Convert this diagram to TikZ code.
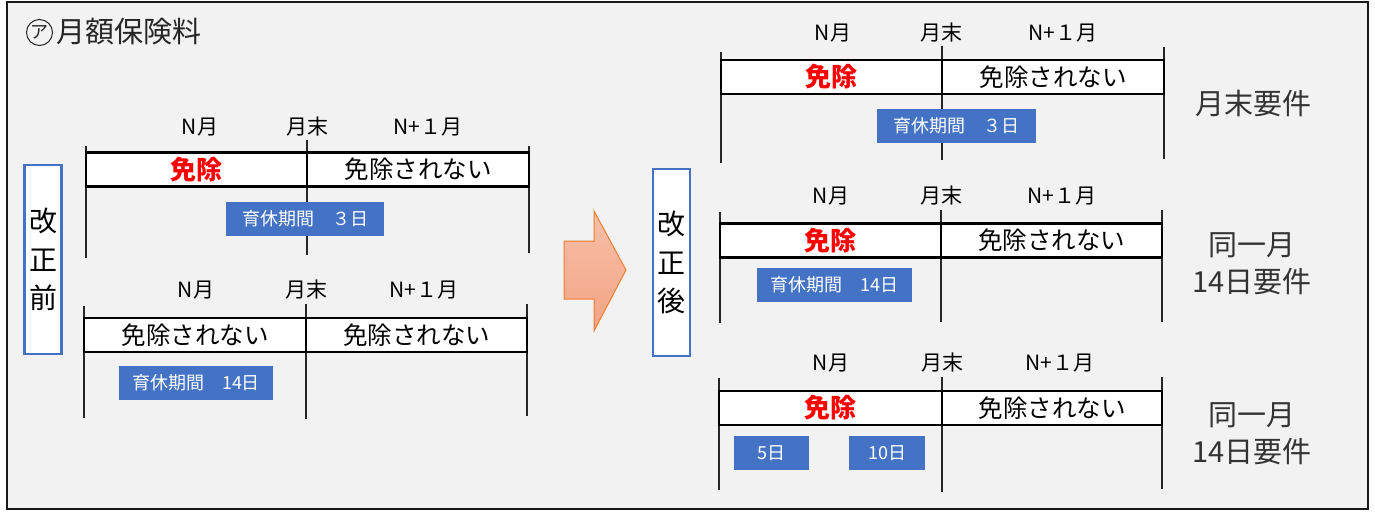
\documentclass[tikz,border=0pt]{standalone}
\usepackage{fontspec}
\setmainfont{Noto Sans CJK JP}
\definecolor{bg}{HTML}{F2F2F2}
\definecolor{accblue}{HTML}{4472C4}
\definecolor{arrowline}{HTML}{ED7D31}
\definecolor{arrtop}{HTML}{F6C0A8}
\definecolor{arrbot}{HTML}{F3A383}
\tikzset{
  cell/.style={draw=black, line width=2.2pt, fill=white, inner sep=0pt, minimum height=34pt,
    font=\fontsize{24.5}{28}\selectfont},
  exempt/.style={text=red, font=\fontsize{26}{30}\selectfont\bfseries},
  period/.style={fill=accblue, text=white, inner sep=0pt, minimum height=34pt,
    font=\fontsize{18}{20}\selectfont},
  lbl/.style={font=\fontsize{21}{24}\selectfont, inner sep=0pt},
  tick/.style={line width=1.4pt, draw=black!85},
  sidebox/.style={draw=accblue, line width=2.5pt, fill=white, minimum width=37pt,
    inner sep=0pt, align=center, font=\fontsize{28}{38.5}\selectfont},
  req/.style={font=\fontsize{29}{37}\selectfont, align=center, text=black!80, inner sep=0pt}
}
\begin{document}
\begin{tikzpicture}[x=1pt, y=-1pt]
\useasboundingbox (0,0) rectangle (1375,511);
\fill[white] (0,0) rectangle (1375,511);
\draw[fill=bg, line width=2.5pt, draw=black!90] (7,2) rectangle (1368,509);

\node[circle, draw=black!85, line width=1pt, inner sep=0pt, minimum size=26pt,
  font=\fontsize{18}{20}\selectfont, text=black!85] (mark) at (39.5,32.5) {ア};
\node[anchor=west, inner sep=0pt, font=\fontsize{29}{32}\selectfont, text=black!85] (title) at (56,32) {月額保険料};

% ---------- before: section A ----------
\coordinate (a1t) at (86,146); \coordinate (a1b) at (86,258);
\coordinate (a2t) at (307,140); \coordinate (a2b) at (307,255);
\coordinate (a3t) at (529,146); \coordinate (a3b) at (529,253);
\draw[tick] (a1t) -- (a1b); \draw[tick] (a2t) -- (a2b); \draw[tick] (a3t) -- (a3b);
\node[lbl] (aL1) at (200,127) {N\kern1pt 月};
\node[lbl] (aL2) at (307,127) {月末};
\node[lbl] (aL3) at (428,127) {N+１月};
\node[cell, minimum width=221pt] (aC1) at (196.5,169.5) {};
\node[exempt] at (aC1) {免除};
\node[cell, minimum width=222pt] (aC2) at (418,169.5) {免除されない};
\node[period, minimum width=158pt] (aP) at (305,219) {育休期間　３日};

% ---------- before: section B ----------
\coordinate (b1t) at (84,306); \coordinate (b1b) at (84,418);
\coordinate (b2t) at (306,304); \coordinate (b2b) at (306,419);
\coordinate (b3t) at (527,304); \coordinate (b3b) at (527,416);
\draw[tick] (b1t) -- (b1b); \draw[tick] (b2t) -- (b2b); \draw[tick] (b3t) -- (b3b);
\node[lbl] (bL1) at (196,290) {N\kern1pt 月};
\node[lbl] (bL2) at (306,290) {月末};
\node[lbl] (bL3) at (424,290) {N+１月};
\node[cell, minimum width=222pt] (bC1) at (195,335) {免除されない};
\node[cell, minimum width=221pt] (bC2) at (416.5,335) {免除されない};
\node[period, minimum width=154pt] (bP) at (196,383) {育休期間　14日};

\node[sidebox, minimum height=189pt] (before) at (43,259.5) {改\\正\\前};

% ---------- arrow ----------
\path[draw=arrowline, line width=1pt, top color=arrtop, bottom color=arrbot]
  (564,241) -- (594,241) -- (594,211) -- (626,270) -- (594,331) -- (594,299) -- (564,299) -- cycle;

\node[sidebox, minimum height=187pt] (after) at (671.5,262.5) {改\\正\\後};

% ---------- after: section C ----------
\coordinate (c1t) at (721,52); \coordinate (c1b) at (721,163);
\coordinate (c2t) at (942,46); \coordinate (c2b) at (942,160);
\coordinate (c3t) at (1164,47); \coordinate (c3b) at (1164,159);
\draw[tick] (c1t) -- (c1b); \draw[tick] (c2t) -- (c2b); \draw[tick] (c3t) -- (c3b);
\node[lbl] (cL1) at (833,33) {N\kern1pt 月};
\node[lbl] (cL2) at (941,33) {月末};
\node[lbl] (cL3) at (1063,33) {N+１月};
\node[cell, minimum width=221pt] (cC1) at (831.5,77) {};
\node[exempt] at (cC1) {免除};
\node[cell, minimum width=222pt] (cC2) at (1053,77) {免除されない};
\node[period, minimum width=159pt] (cP) at (956.5,126) {育休期間　３日};
\node[req] (cR) at (1253,104) {月末要件};

% ---------- after: section D ----------
\coordinate (d1t) at (720,212); \coordinate (d1b) at (720,323);
\coordinate (d2t) at (941,210); \coordinate (d2b) at (941,322);
\coordinate (d3t) at (1162,210); \coordinate (d3b) at (1162,322);
\draw[tick] (d1t) -- (d1b); \draw[tick] (d2t) -- (d2b); \draw[tick] (d3t) -- (d3b);
\node[lbl] (dL1) at (831,196) {N\kern1pt 月};
\node[lbl] (dL2) at (941,196) {月末};
\node[lbl] (dL3) at (1062,196) {N+１月};
\node[cell, minimum width=221pt] (dC1) at (830.5,240.5) {};
\node[exempt] at (dC1) {免除};
\node[cell, minimum width=221pt] (dC2) at (1051.5,240.5) {免除されない};
\node[period, minimum width=155pt] (dP) at (834.5,285) {育休期間　14日};
\node[req] (dR) at (1252,263.5) {同一月\\14日要件};

% ---------- after: section E ----------
\coordinate (e1t) at (719,378); \coordinate (e1b) at (719,490);
\coordinate (e2t) at (942,377); \coordinate (e2b) at (942,492);
\coordinate (e3t) at (1162,377); \coordinate (e3b) at (1162,489);
\draw[tick] (e1t) -- (e1b); \draw[tick] (e2t) -- (e2b); \draw[tick] (e3t) -- (e3b);
\node[lbl] (eL1) at (831,363) {N\kern1pt 月};
\node[lbl] (eL2) at (942,363) {月末};
\node[lbl] (eL3) at (1060,363) {N+１月};
\node[cell, minimum width=223pt] (eC1) at (830.5,408) {};
\node[exempt] at (eC1) {免除};
\node[cell, minimum width=220pt] (eC2) at (1052,408) {免除されない};
\node[period, minimum width=75pt] (eP1) at (771.5,453) {5日};
\node[period, minimum width=76pt] (eP2) at (887,453) {10日};
\node[req] (eR) at (1252,433.5) {同一月\\14日要件};
\end{tikzpicture}
\end{document}
